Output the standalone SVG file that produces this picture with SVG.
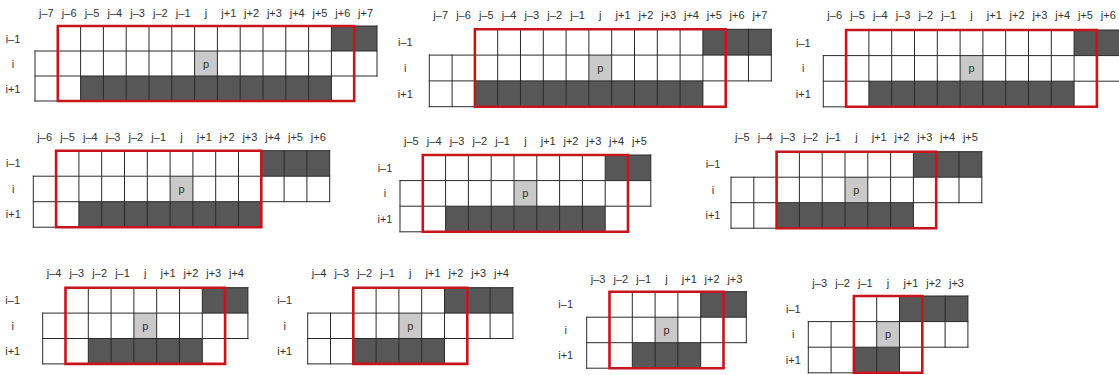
<svg xmlns="http://www.w3.org/2000/svg" width="1119" height="375" viewBox="0 0 1119 375">
<style>
.g{fill:none;stroke:#2a2a2a;stroke-width:1;stroke-linecap:square;vector-effect:non-scaling-stroke}
.d{fill:#575757}
.pc{fill:#c9c9c9}
.r{fill:none;stroke:#c8141c;stroke-width:2.6;vector-effect:non-scaling-stroke}
text{font-family:"Liberation Sans",Arial,sans-serif;font-size:11px;fill:#333;text-anchor:middle}
</style>
<rect width="1119" height="375" fill="#fff"/>

<g id="panel1" transform="translate(35,26)">
<g transform="scale(22.8,25)">
<rect class="d" x="13" y="0" width="2" height="1"/>
<rect class="d" x="2" y="2" width="11" height="1"/>
<rect class="pc" x="7" y="1" width="1" height="1"/>
<path class="g" d="M1 0H15M0 1H15M0 2H15M0 3H14M0 1V3M1 0V3M2 0V3M3 0V3M4 0V3M5 0V3M6 0V3M7 0V3M8 0V3M9 0V3M10 0V3M11 0V3M12 0V3M13 0V3M14 0V3M15 0V2"/>
<rect class="r" x="1" y="0" width="13" height="3"/>
</g>
<text x="11.4" y="-9">j–7</text><text x="34.2" y="-9">j–6</text><text x="57" y="-9">j–5</text><text x="79.8" y="-9">j–4</text><text x="102.6" y="-9">j–3</text><text x="125.4" y="-9">j–2</text><text x="148.2" y="-9">j–1</text><text x="171" y="-9">j</text><text x="193.8" y="-9">j+1</text><text x="216.6" y="-9">j+2</text><text x="239.4" y="-9">j+3</text><text x="262.2" y="-9">j+4</text><text x="285" y="-9">j+5</text><text x="307.8" y="-9">j+6</text><text x="330.6" y="-9">j+7</text>
<text x="-22" y="16.5">i–1</text><text x="-22" y="41.5">i</text><text x="-22" y="66.5">i+1</text>
<text x="171" y="41.5">p</text>
</g>

<g id="panel2" transform="translate(429.3,29.3)">
<g transform="scale(22.8,25.8)">
<rect class="d" x="12" y="0" width="3" height="1"/>
<rect class="d" x="2" y="2" width="10" height="1"/>
<rect class="pc" x="7" y="1" width="1" height="1"/>
<path class="g" d="M2 0H15M0 1H15M0 2H15M0 3H13M0 1V3M1 1V3M2 0V3M3 0V3M4 0V3M5 0V3M6 0V3M7 0V3M8 0V3M9 0V3M10 0V3M11 0V3M12 0V3M13 0V3M14 0V2M15 0V2"/>
<rect class="r" x="2" y="0" width="11" height="3"/>
</g>
<text x="11.4" y="-10.3">j–7</text><text x="34.2" y="-10.3">j–6</text><text x="57" y="-10.3">j–5</text><text x="79.8" y="-10.3">j–4</text><text x="102.6" y="-10.3">j–3</text><text x="125.4" y="-10.3">j–2</text><text x="148.2" y="-10.3">j–1</text><text x="171" y="-10.3">j</text><text x="193.8" y="-10.3">j+1</text><text x="216.6" y="-10.3">j+2</text><text x="239.4" y="-10.3">j+3</text><text x="262.2" y="-10.3">j+4</text><text x="285" y="-10.3">j+5</text><text x="307.8" y="-10.3">j+6</text><text x="330.6" y="-10.3">j+7</text>
<text x="-24" y="17">i–1</text><text x="-24" y="42.7">i</text><text x="-24" y="68.5">i+1</text>
<text x="171" y="42.7">p</text>
</g>

<g id="panel3" transform="translate(823.3,30)">
<g transform="scale(22.8,25.6)">
<rect class="d" x="11" y="0" width="2" height="1"/>
<rect class="d" x="2" y="2" width="9" height="1"/>
<rect class="pc" x="6" y="1" width="1" height="1"/>
<path class="g" d="M1 0H13M0 1H13M0 2H13M0 3H12M0 1V3M1 0V3M2 0V3M3 0V3M4 0V3M5 0V3M6 0V3M7 0V3M8 0V3M9 0V3M10 0V3M11 0V3M12 0V3M13 0V2"/>
<rect class="r" x="1" y="0" width="11" height="3"/>
</g>
<text x="11.4" y="-11">j–6</text><text x="34.2" y="-11">j–5</text><text x="57" y="-11">j–4</text><text x="79.8" y="-11">j–3</text><text x="102.6" y="-11">j–2</text><text x="125.4" y="-11">j–1</text><text x="148.2" y="-11">j</text><text x="171" y="-11">j+1</text><text x="193.8" y="-11">j+2</text><text x="216.6" y="-11">j+3</text><text x="239.4" y="-11">j+4</text><text x="262.2" y="-11">j+5</text><text x="285" y="-11">j+6</text>
<text x="-20" y="16.8">i–1</text><text x="-20" y="42.4">i</text><text x="-20" y="68">i+1</text>
<text x="148.2" y="42.4">p</text>
</g>

<g id="panel4" transform="translate(33.3,150.7)">
<g transform="scale(22.8,25.5)">
<rect class="d" x="10" y="0" width="3" height="1"/>
<rect class="d" x="2" y="2" width="8" height="1"/>
<rect class="pc" x="6" y="1" width="1" height="1"/>
<path class="g" d="M1 0H13M0 1H13M0 2H13M0 3H10M0 1V3M1 0V3M2 0V3M3 0V3M4 0V3M5 0V3M6 0V3M7 0V3M8 0V3M9 0V3M10 0V3M11 0V2M12 0V2M13 0V2"/>
<rect class="r" x="1" y="0" width="9" height="3"/>
</g>
<text x="11.4" y="-10.2">j–6</text><text x="34.2" y="-10.2">j–5</text><text x="57" y="-10.2">j–4</text><text x="79.8" y="-10.2">j–3</text><text x="102.6" y="-10.2">j–2</text><text x="125.4" y="-10.2">j–1</text><text x="148.2" y="-10.2">j</text><text x="171" y="-10.2">j+1</text><text x="193.8" y="-10.2">j+2</text><text x="216.6" y="-10.2">j+3</text><text x="239.4" y="-10.2">j+4</text><text x="262.2" y="-10.2">j+5</text><text x="285" y="-10.2">j+6</text>
<text x="-20" y="16.75">i–1</text><text x="-20" y="42.25">i</text><text x="-20" y="67.75">i+1</text>
<text x="148.2" y="42.25">p</text>
</g>

<g id="panel5" transform="translate(400,155)">
<g transform="scale(22.8,25.6)">
<rect class="d" x="9" y="0" width="2" height="1"/>
<rect class="d" x="2" y="2" width="7" height="1"/>
<rect class="pc" x="5" y="1" width="1" height="1"/>
<path class="g" d="M1 0H11M0 1H11M0 2H11M0 3H10M0 1V3M1 0V3M2 0V3M3 0V3M4 0V3M5 0V3M6 0V3M7 0V3M8 0V3M9 0V3M10 0V3M11 0V2"/>
<rect class="r" x="1" y="0" width="9" height="3"/>
</g>
<text x="11.4" y="-10">j–5</text><text x="34.2" y="-10">j–4</text><text x="57" y="-10">j–3</text><text x="79.8" y="-10">j–2</text><text x="102.6" y="-10">j–1</text><text x="125.4" y="-10">j</text><text x="148.2" y="-10">j+1</text><text x="171" y="-10">j+2</text><text x="193.8" y="-10">j+3</text><text x="216.6" y="-10">j+4</text><text x="239.4" y="-10">j+5</text>
<text x="-15" y="16.8">i–1</text><text x="-15" y="42.4">i</text><text x="-15" y="68">i+1</text>
<text x="125.4" y="42.4">p</text>
</g>

<g id="panel6" transform="translate(731,151.7)">
<g transform="scale(22.8,25.5)">
<rect class="d" x="8" y="0" width="3" height="1"/>
<rect class="d" x="2" y="2" width="6" height="1"/>
<rect class="pc" x="5" y="1" width="1" height="1"/>
<path class="g" d="M2 0H11M0 1H11M0 2H11M0 3H9M0 1V3M1 1V3M2 0V3M3 0V3M4 0V3M5 0V3M6 0V3M7 0V3M8 0V3M9 0V3M10 0V2M11 0V2"/>
<rect class="r" x="2" y="0" width="7" height="3"/>
</g>
<text x="11.4" y="-11.2">j–5</text><text x="34.2" y="-11.2">j–4</text><text x="57" y="-11.2">j–3</text><text x="79.8" y="-11.2">j–2</text><text x="102.6" y="-11.2">j–1</text><text x="125.4" y="-11.2">j</text><text x="148.2" y="-11.2">j+1</text><text x="171" y="-11.2">j+2</text><text x="193.8" y="-11.2">j+3</text><text x="216.6" y="-11.2">j+4</text><text x="239.4" y="-11.2">j+5</text>
<text x="-18" y="16.75">i–1</text><text x="-18" y="42.25">i</text><text x="-18" y="67.75">i+1</text>
<text x="125.4" y="42.25">p</text>
</g>

<g id="panel7" transform="translate(42.7,287.7)">
<g transform="scale(22.8,25.4)">
<rect class="d" x="7" y="0" width="2" height="1"/>
<rect class="d" x="2" y="2" width="5" height="1"/>
<rect class="pc" x="4" y="1" width="1" height="1"/>
<path class="g" d="M1 0H9M0 1H9M0 2H9M0 3H8M0 1V3M1 0V3M2 0V3M3 0V3M4 0V3M5 0V3M6 0V3M7 0V3M8 0V3M9 0V2"/>
<rect class="r" x="1" y="0" width="7" height="3"/>
</g>
<text x="11.4" y="-10.7">j–4</text><text x="34.2" y="-10.7">j–3</text><text x="57" y="-10.7">j–2</text><text x="79.8" y="-10.7">j–1</text><text x="102.6" y="-10.7">j</text><text x="125.4" y="-10.7">j+1</text><text x="148.2" y="-10.7">j+2</text><text x="171" y="-10.7">j+3</text><text x="193.8" y="-10.7">j+4</text>
<text x="-30" y="16.7">i–1</text><text x="-30" y="42.1">i</text><text x="-30" y="67.5">i+1</text>
<text x="102.6" y="42.1">p</text>
</g>

<g id="panel8" transform="translate(307.7,287.7)">
<g transform="scale(22.8,25.4)">
<rect class="d" x="6" y="0" width="3" height="1"/>
<rect class="d" x="2" y="2" width="4" height="1"/>
<rect class="pc" x="4" y="1" width="1" height="1"/>
<path class="g" d="M2 0H9M0 1H9M0 2H9M0 3H7M0 1V3M1 1V3M2 0V3M3 0V3M4 0V3M5 0V3M6 0V3M7 0V3M8 0V2M9 0V2"/>
<rect class="r" x="2" y="0" width="5" height="3"/>
</g>
<text x="11.4" y="-10.7">j–4</text><text x="34.2" y="-10.7">j–3</text><text x="57" y="-10.7">j–2</text><text x="79.8" y="-10.7">j–1</text><text x="102.6" y="-10.7">j</text><text x="125.4" y="-10.7">j+1</text><text x="148.2" y="-10.7">j+2</text><text x="171" y="-10.7">j+3</text><text x="193.8" y="-10.7">j+4</text>
<text x="-23" y="16.7">i–1</text><text x="-23" y="42.1">i</text><text x="-23" y="67.5">i+1</text>
<text x="102.6" y="42.1">p</text>
</g>

<g id="panel9" transform="translate(586.7,291.7)">
<g transform="scale(22.8,25.5)">
<rect class="d" x="5" y="0" width="2" height="1"/>
<rect class="d" x="2" y="2" width="3" height="1"/>
<rect class="pc" x="3" y="1" width="1" height="1"/>
<path class="g" d="M1 0H7M0 1H7M0 2H7M0 3H6M0 1V3M1 0V3M2 0V3M3 0V3M4 0V3M5 0V3M6 0V3M7 0V2"/>
<rect class="r" x="1" y="0" width="5" height="3"/>
</g>
<text x="11.4" y="-8.7">j–3</text><text x="34.2" y="-8.7">j–2</text><text x="57" y="-8.7">j–1</text><text x="79.8" y="-8.7">j</text><text x="102.6" y="-8.7">j+1</text><text x="125.4" y="-8.7">j+2</text><text x="148.2" y="-8.7">j+3</text>
<text x="-21" y="16.75">i–1</text><text x="-21" y="42.25">i</text><text x="-21" y="67.75">i+1</text>
<text x="79.8" y="42.25">p</text>
</g>

<g id="panel10" transform="translate(808.3,296)">
<g transform="scale(22.8,25.6)">
<rect class="d" x="4" y="0" width="3" height="1"/>
<rect class="d" x="2" y="2" width="2" height="1"/>
<rect class="pc" x="3" y="1" width="1" height="1"/>
<path class="g" d="M2 0H7M0 1H7M0 2H7M0 3H5M0 1V3M1 1V3M2 0V3M3 0V3M4 0V3M5 0V3M6 0V2M7 0V2"/>
<rect class="r" x="2" y="0" width="3" height="3"/>
</g>
<text x="11.4" y="-9.5">j–3</text><text x="34.2" y="-9.5">j–2</text><text x="57" y="-9.5">j–1</text><text x="79.8" y="-9.5">j</text><text x="102.6" y="-9.5">j+1</text><text x="125.4" y="-9.5">j+2</text><text x="148.2" y="-9.5">j+3</text>
<text x="-15" y="16.8">i–1</text><text x="-15" y="42.4">i</text><text x="-15" y="68">i+1</text>
<text x="79.8" y="42.4">p</text>
</g>
</svg>
